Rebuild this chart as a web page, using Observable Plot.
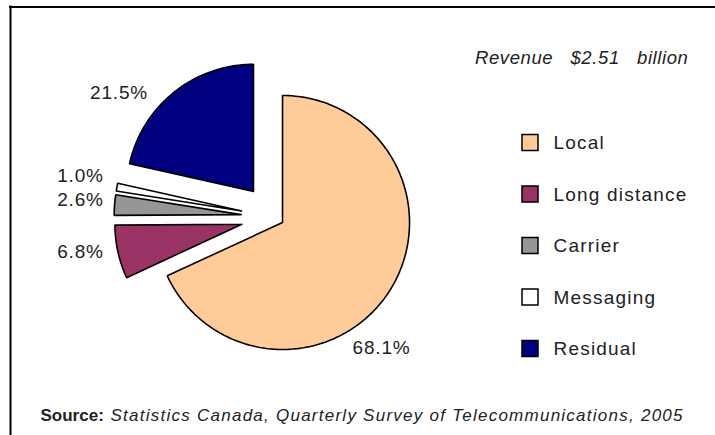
<!DOCTYPE html>
<html><head><meta charset="utf-8">
<script src="https://cdn.jsdelivr.net/npm/d3@7"></script>
<script src="https://cdn.jsdelivr.net/npm/@observablehq/plot@0.6"></script>
<style>body{margin:0;background:#fff} svg{display:block}</style>
</head><body><div id="chart"></div>
<script>
// ---- data ----
const categories = ["Local", "Long distance", "Carrier", "Messaging", "Residual"];
const shares = [68.1, 6.8, 2.6, 1.0, 21.5];
const shareLabels = ["68.1%", "6.8%", "2.6%", "1.0%", "21.5%"];
const colors = ["#FFCC99", "#993366", "#969696", "#FFFFFF", "#000080"];
const title = "Revenue   $2.51   billion";
const sourceLabel = "Source:";
const sourceText = "Statistics Canada, Quarterly Survey of Telecommunications, 2005";

// ---- layout ----
const W = 715, H = 435;
const cx = 273.6, cy = 216.6, R = 127;
const explode = [10, 33, 33, 33, 33];
const labelAt = [[381, 347.5], [80, 251.5], [80, 199.7], [80, 175.5], [118.5, 92]];
const legendX = 522, legendBox = 16, legendTextX = 553, legendY0 = 142.5, legendStep = 51.5;
const font = "Liberation Sans, Arial, Helvetica, sans-serif";

// ---- geometry from data ----
const total = d3.sum(shares);
const pts = [];
let cum = 0;
categories.forEach((cat, i) => {
  const a0 = cum / total * 2 * Math.PI;
  cum += shares[i];
  const a1 = cum / total * 2 * Math.PI;
  const mid = (a0 + a1) / 2;
  const ax = cx + explode[i] * Math.sin(mid), ay = cy - explode[i] * Math.cos(mid);
  pts.push({cat, x: ax, y: ay});
  const n = Math.max(4, Math.ceil((a1 - a0) / (Math.PI / 180)));
  for (let k = 0; k <= n; k++) {
    const a = a0 + (a1 - a0) * k / n;
    pts.push({cat, x: ax + R * Math.sin(a), y: ay - R * Math.cos(a)});
  }
  pts.push({cat, x: ax, y: ay});
});

const labels = categories.map((cat, i) => ({cat, text: shareLabels[i], x: labelAt[i][0], y: labelAt[i][1]}));
const legend = categories.map((cat, i) => ({cat, i, yc: legendY0 + i * legendStep}));

const chart = Plot.plot({
  width: W, height: H,
  margin: 0,
  style: {fontFamily: font, background: "#fff"},
  x: {domain: [0, W], range: [0, W], axis: null},
  y: {domain: [0, H], range: [0, H], axis: null},
  color: {domain: categories, range: colors},
  marks: [
    Plot.ruleX([10], {y1: 5.5, y2: H, stroke: "#000", strokeWidth: 2}),
    Plot.ruleY([6.5], {x1: 9, x2: W, stroke: "#000", strokeWidth: 2}),
    Plot.line(pts, {x: "x", y: "y", z: "cat", fill: "cat", stroke: "#000", strokeWidth: 1.6, curve: "linear", strokeLinejoin: "miter"}),
    Plot.text(labels, {x: "x", y: "y", text: "text", fontSize: 19, fill: "#222", textAnchor: "middle"}),
    Plot.rect(legend, {x1: legendX, x2: legendX + legendBox, y1: d => d.yc - legendBox / 2, y2: d => d.yc + legendBox / 2, fill: "cat", stroke: "#000", strokeWidth: 1.5}),
    Plot.text(legend, {x: legendTextX, y: "yc", text: "cat", fontSize: 19, fill: "#222", textAnchor: "start"}),
    Plot.text([title], {x: 688, y: 58, text: d => d, fontSize: 18.5, fontStyle: "italic", fill: "#222", textAnchor: "end"}),
    Plot.text([sourceLabel], {x: 40, y: 415, text: d => d, fontSize: 17, fontWeight: "bold", fill: "#222", textAnchor: "start"}),
    Plot.text([sourceText], {x: 110, y: 415, text: d => d, fontSize: 17, fontStyle: "italic", fill: "#222", textAnchor: "start"})
  ]
});

// letter spacing to match the wider type of the reference
const spacing = t =>
  categories.includes(t) ? "1.2px" :
  shareLabels.includes(t) ? "0.8px" :
  t === title ? "0.6px" :
  t === sourceText ? "1.25px" : null;
d3.select(chart).selectAll("text").each(function() {
  const s = spacing(this.textContent);
  if (s) this.setAttribute("letter-spacing", s);
});
document.getElementById("chart").append(chart);
</script>
</body></html>
